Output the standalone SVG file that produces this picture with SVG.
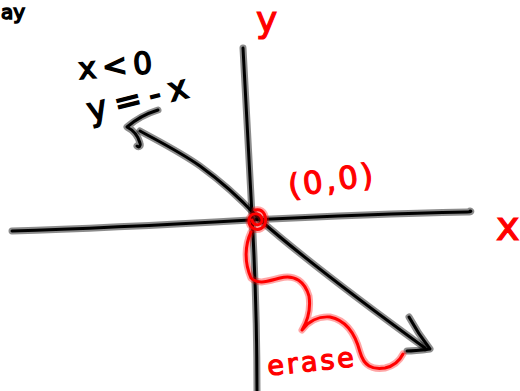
<svg xmlns="http://www.w3.org/2000/svg" width="520" height="391" viewBox="0 0 520 391">
<style>
.halo{fill:none;stroke:#000;stroke-opacity:0.45;stroke-width:7;stroke-linecap:round;stroke-linejoin:round}
.ink{fill:none;stroke:#000;stroke-width:3;stroke-linecap:round;stroke-linejoin:round}
.rhalo{fill:none;stroke:#ff0000;stroke-opacity:0.35;stroke-width:7;stroke-linecap:round;stroke-linejoin:round}
.rink{fill:none;stroke:#ff0000;stroke-width:3;stroke-linecap:round;stroke-linejoin:round}
.bt{font-family:"DejaVu Sans",sans-serif;fill:#000;stroke:#000;stroke-width:1.5;paint-order:stroke}
.rt{font-family:"DejaVu Sans",sans-serif;fill:#ff0000;stroke:#ff0000;stroke-width:1.2}
</style>
<rect width="520" height="391" fill="#fff"/>
<defs>
<path id="vaxis" d="M243,48 C246,110 250,170 252,215 C255,270 257,330 257,391"/>
<path id="haxis" d="M12,231 C80,229 180,224 250,220 C330,216 420,213 467,212 C472,212 471,211 470,211"/>
<path id="diag" d="M140,131 C160,142 180,152 200,166 C222,182 242,200 260,220 C300,255 370,308 425,348"/>
<path id="arrUL" d="M158,110 C145,114 135,120 127,127 C133,130 138,136 140,143 C141,146 139,148 137,146"/>
<path id="arrBR" d="M409,317 C415,328 423,340 430,349 C422,350 414,351 407,351"/>
</defs>
<g id="connectors">
<use href="#vaxis" class="halo"/><use href="#vaxis" class="ink"/>
<use href="#haxis" class="halo"/><use href="#haxis" class="ink"/>
<use href="#diag" class="halo"/><use href="#diag" class="ink"/>
<use href="#arrUL" class="halo"/><use href="#arrUL" class="ink"/>
<use href="#arrBR" class="halo"/><use href="#arrBR" class="ink"/>
</g>
<g id="origin">
<path class="rhalo" d="M255,210 C264,208 268,218 264,226 C258,233 248,228 249,220 C250,212 260,212 262,219 C263,226 253,227 252,220"/>
<path class="rink" d="M255,210 C264,208 268,218 264,226 C258,233 248,228 249,220 C250,212 260,212 262,219 C263,226 253,227 252,220"/>
<text class="rt" x="287" y="191" font-size="31" letter-spacing="3" transform="rotate(-8 330 175)">(0,0)</text>
</g>
<g id="erase-mark">
<path class="rhalo" d="M251,232 C245,245 244,262 251,278 C258,285 268,281 280,278 C295,274 305,282 309,296 C311,310 307,322 302,330 C308,322 318,316 330,317 C345,320 355,333 360,352 C364,366 372,370 385,368 C394,366 400,360 403,354"/>
<path class="rink" d="M251,232 C245,245 244,262 251,278 C258,285 268,281 280,278 C295,274 305,282 309,296 C311,310 307,322 302,330 C308,322 318,316 330,317 C345,320 355,333 360,352 C364,366 372,370 385,368 C394,366 400,360 403,354"/>
<text class="rt" x="267" y="371" font-size="27" letter-spacing="3" transform="rotate(-6 310 362)">erase</text>
</g>
<g id="label-y">
<text class="rt" x="256" y="32" font-size="36">y</text>
</g>
<g id="label-x">
<text class="rt" x="496" y="240" font-size="40">x</text>
</g>
<g id="label-cond">
<text class="bt" x="78" y="76" font-size="30" letter-spacing="6" transform="rotate(-5 115 62)">x&lt;0</text>
<text class="bt" x="86" y="109" font-size="33" letter-spacing="8" transform="rotate(-14 140 98)">y=-x</text>
</g>
<g id="fragment">
<text class="bt" x="1" y="19" font-size="20">ay</text>
</g>
</svg>
